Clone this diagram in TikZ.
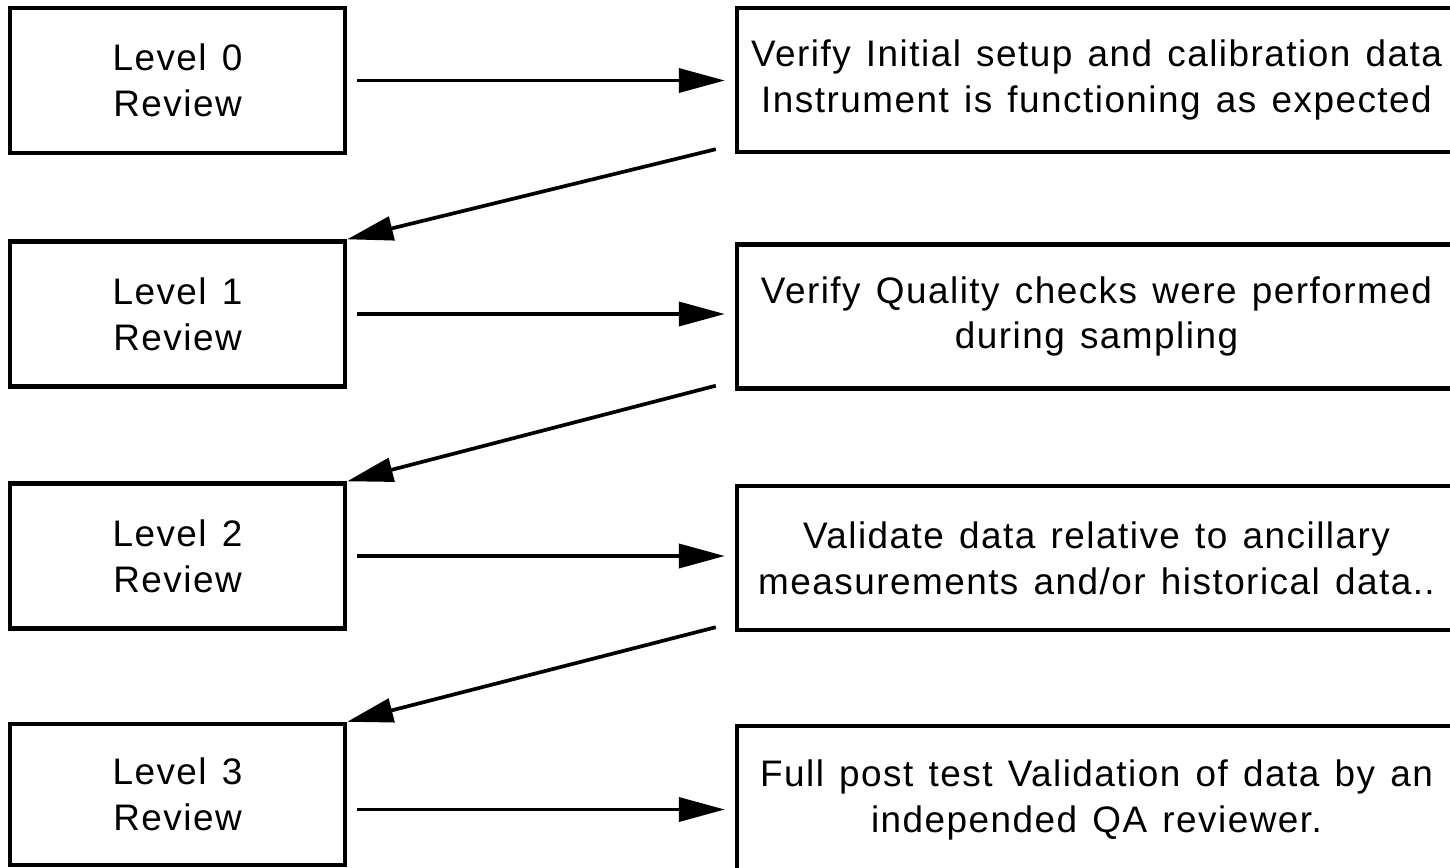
\documentclass[tikz,border=0pt]{standalone}
\usepackage{fontspec}
\setmainfont{Liberation Sans}[LetterSpace=4, WordSpace=1.3]
\usetikzlibrary{arrows.meta, positioning}

\begin{document}
\begin{tikzpicture}[
    font=\fontsize{21}{26}\selectfont,
    levelbox/.style={draw, line width=2.5pt, minimum width=6.7cm, minimum height=2.9cm, align=center, inner sep=0pt},
    taskbox/.style={draw, line width=2.5pt, minimum width=14.38cm, minimum height=2.88cm, align=center, inner sep=0pt},
    flow/.style={-{Triangle[length=0.92cm, width=0.48cm]}}]
                        \useasboundingbox (0, 0) rectangle (29, -17.34);
                        % review levels
                        \node[levelbox] (l0) at (3.55, -1.61) {Level 0\\Review};
                        \node[levelbox] (l1) at (3.55, -6.28) {Level 1\\Review};
                        \node[levelbox] (l2) at (3.55, -11.12) {Level 2\\Review};
                        \node[levelbox, minimum height=2.82cm] (l3) at (3.55, -15.89) {Level 3\\Review};
                        % what each level does
                        \node[taskbox] (r0) at (21.93, -1.60) {Verify Initial setup and calibration data\\Instrument is functioning as expected};
                        \node[taskbox] (r1) at (21.93, -6.33) {Verify Quality checks were performed\\during sampling};
                        \node[taskbox] (r2) at (21.93, -11.16) {Validate data relative to ancillary\\measurements and/or historical data..};
                        \node[taskbox, minimum height=2.96cm] (r3) at (21.93, -16.0) {Full post test Validation of data by an\\independed QA reviewer.};
                        \coordinate (a3) at ([yshift=-0.3cm]l3.east);
                        \draw[line width=2.1pt, shorten <=0.2cm, shorten >=0.2cm]
                        (l0.east) edge[flow] (l0.east -| r0.west)
                        (l1.east) edge[flow] (l1.east -| r1.west)
                        (l2.east) edge[flow] (l2.east -| r2.west)
                        (a3) edge[flow] (a3 -| r3.west);
                        \draw[line width=2.1pt]
                        ([xshift=-0.38cm, yshift=0.1cm]r0.south west) edge[flow] (l1.north east)
                        ([xshift=-0.38cm, yshift=0.1cm]r1.south west) edge[flow] (l2.north east)
                        ([xshift=-0.38cm, yshift=0.1cm]r2.south west) edge[flow] (l3.north east);
                    \end{tikzpicture}
\end{document}
